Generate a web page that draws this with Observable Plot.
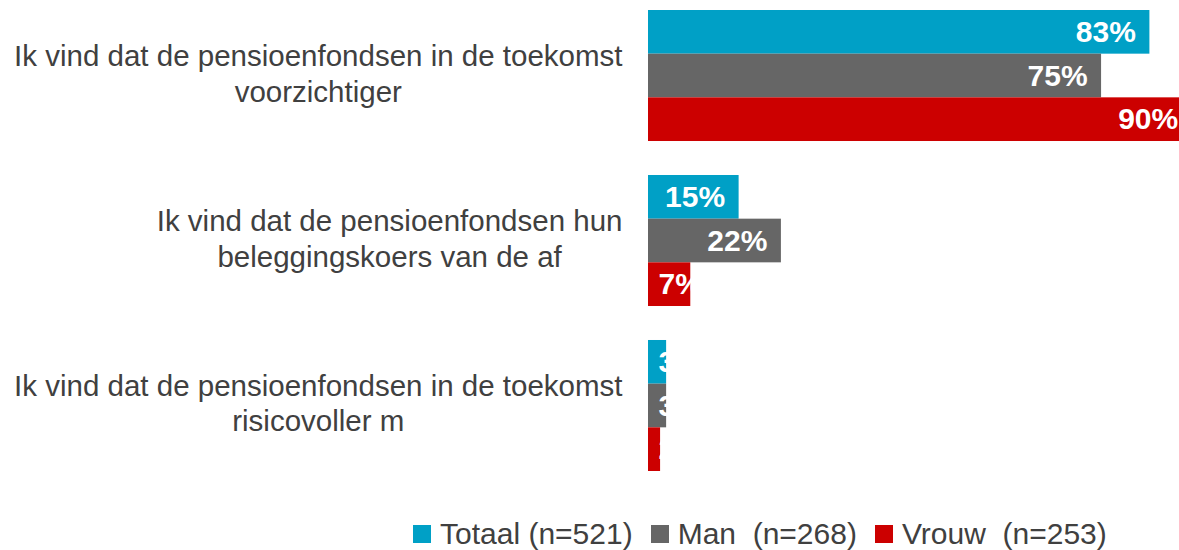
<!DOCTYPE html>
<html><head><meta charset="utf-8">
<script src="https://cdn.jsdelivr.net/npm/d3@7"></script>
<script src="https://cdn.jsdelivr.net/npm/@observablehq/plot@0.6"></script>
<style>
html,body{margin:0;padding:0;background:#fff;}
body{width:1179px;height:550px;overflow:hidden;font-family:"Liberation Sans",Arial,sans-serif;}
#chart svg{display:block;}
.lg-swatches{white-space:pre;}
.lg-swatch{margin-right:18px !important;}
.lg-swatch > svg{margin-right:9px !important;}
</style></head><body><div id="chart"></div>
<script>
const categories = [
  "Ik vind dat de pensioenfondsen in de toekomst\nvoorzichtiger",
  "Ik vind dat de pensioenfondsen hun\nbeleggingskoers van de af",
  "Ik vind dat de pensioenfondsen in de toekomst\nrisicovoller m"
];
const series = ["Totaal (n=521)", "Man  (n=268)", "Vrouw  (n=253)"];
const totaal = [83, 15, 3];
const man = [75, 22, 3];
const vrouw = [90, 7, 2];
const colors = ["#00a0c6", "#666666", "#cc0000"];

const values = [totaal, man, vrouw];
const rows = [];
categories.forEach((c, i) => series.forEach((s, j) => rows.push({category: c, series: s, value: values[j][i]})));

const labelFont = "29.5px 'Liberation Sans'";
const ctx = document.createElement("canvas").getContext("2d");
ctx.font = labelFont;
const blockWidth = c => Math.max(...c.split("\n").map(l => ctx.measureText(l).width));
const gap = 26;

const catMarks = categories.map(c => Plot.text([c], {
  fy: d => d,
  text: d => d,
  frameAnchor: "left",
  textAnchor: "middle",
  dx: -(gap + blockWidth(c) / 2),
  dy: -4,
  fontSize: 29.5,
  lineHeight: 1.22,
  fill: "#404040"
}));

const chart = Plot.plot({
  width: 1179,
  height: 490,
  marginLeft: 648,
  marginRight: 0,
  marginTop: 10,
  marginBottom: 19,
  style: {fontFamily: "'Liberation Sans', Arial, sans-serif", background: "#fff"},
  x: {domain: [0, 87.9], axis: null},
  y: {domain: series, padding: 0, round: false, axis: null},
  fy: {domain: categories, paddingInner: 0.206, paddingOuter: 0, round: false, axis: null},
  color: {domain: series, range: colors},
  marks: [
    Plot.barX(rows, {fy: "category", y: "series", x: "value", fill: "series"}),
    Plot.text(rows.filter(d => d.value >= 10), {fy: "category", y: "series", x: "value", text: d => d.value + "%", textAnchor: "end", dx: -14, fill: "white", fontWeight: "bold", fontSize: 30}),
    Plot.text(rows.filter(d => d.value < 10), {fy: "category", y: "series", x: 0, text: d => d.value + "%", textAnchor: "start", dx: 10, fill: "white", fontWeight: "bold", fontSize: 30}),
    ...catMarks
  ]
});
document.getElementById("chart").appendChild(chart);

const legend = Plot.legend({
  color: {type: "ordinal", domain: series, range: colors},
  swatchSize: 18,
  className: "lg",
  style: {fontSize: "30px", color: "#404040", fontFamily: "'Liberation Sans', Arial, sans-serif", marginLeft: "413px", marginTop: "27px"}
});
document.getElementById("chart").appendChild(legend);
</script></body></html>
